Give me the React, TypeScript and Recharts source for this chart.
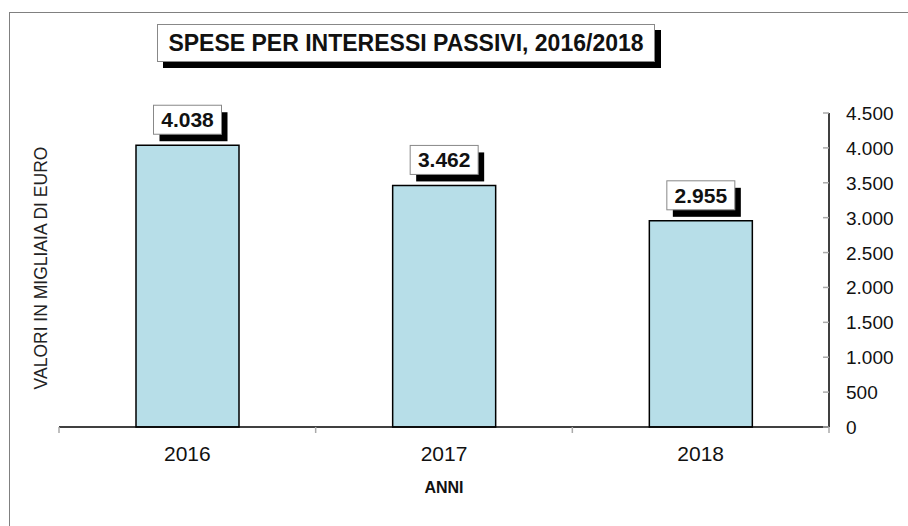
import React from "react";
import { BarChart, Bar, XAxis, YAxis, LabelList, Label } from "recharts";

const years = ["2016", "2017", "2018"];
const spese = [4038, 3462, 2955];
const yTicks = [0, 500, 1000, 1500, 2000, 2500, 3000, 3500, 4000, 4500];

const data = years.map((anno, i) => ({ anno, spese: spese[i] }));

const FONT = '"Liberation Sans", Arial, Helvetica, sans-serif';
const W = 908;
const H = 526;
const LEFT = 59;
const PLOT_W = 770;
const BAND = PLOT_W / years.length;

// 4500 -> "4.500" (Italian grouping; it-IT locale skips 4-digit numbers)
const fmt = (n: number) => String(n).replace(/\B(?=(\d{3})+(?!\d))/g, ".");

const YearTick = (props: any) => {
  const { x, y, payload, index } = props;
  const left = x - BAND / 2;
  return (
    <g>
      <line x1={left} y1={y} x2={left} y2={y + 6} stroke="#aaa" strokeWidth={1.5} />
      {index === years.length - 1 && (
        <line x1={x + BAND / 2} y1={y} x2={x + BAND / 2} y2={y + 6} stroke="#aaa" strokeWidth={1.5} />
      )}
      <text x={x} y={y + 34} textAnchor="middle" fontSize={21} fill="#111" fontFamily={FONT}>
        {payload.value}
      </text>
    </g>
  );
};

const ValueTick = (props: any) => {
  const { x, y, payload } = props;
  return (
    <g>
      <line x1={x - 6} y1={y} x2={x} y2={y} stroke="#aaa" strokeWidth={1.5} />
      <text x={x + 17} y={y + 7} textAnchor="start" fontSize={19} fill="#111" fontFamily={FONT}>
        {fmt(payload.value)}
      </text>
    </g>
  );
};

const BoxLabel = (props: any) => {
  const { x, y, width, value } = props;
  const cx = x + width / 2;
  const bw = 68;
  const bh = 29;
  const top = y - 40;
  return (
    <g>
      <rect x={cx - bw / 2 + 6} y={top + 7} width={bw} height={bh} fill="#000" />
      <rect x={cx - bw / 2} y={top} width={bw} height={bh} fill="#fff" stroke="#888" strokeWidth={1} />
      <text x={cx} y={top + 22} textAnchor="middle" fontSize={21} fontWeight="bold" fill="#111" fontFamily={FONT}>
        {fmt(value)}
      </text>
    </g>
  );
};

export default function App() {
  return (
    <div style={{ position: "absolute", left: 0, top: 0, width: W, height: H, background: "#fff", overflow: "hidden", fontFamily: FONT }}>
      <div style={{ position: "absolute", left: 9, top: 12, width: 2000, height: 2000, borderLeft: "1.5px solid #808080", borderTop: "1.5px solid #808080" }} />
      <div
        style={{
          position: "absolute",
          left: 157,
          top: 24,
          width: 498,
          height: 38,
          boxSizing: "border-box",
          border: "1px solid #888",
          background: "#fff",
          boxShadow: "6px 6px 0 #000",
          fontSize: 23,
          fontWeight: "bold",
          lineHeight: "36px",
          textAlign: "center",
          color: "#111",
          whiteSpace: "nowrap",
        }}
      >
        SPESE PER INTERESSI PASSIVI, 2016/2018
      </div>
      <div
        style={{
          position: "absolute",
          left: 41,
          top: 268,
          transform: "translate(-50%, -50%) rotate(-90deg)",
          whiteSpace: "nowrap",
          fontSize: 17.5,
          color: "#222",
        }}
      >
        VALORI IN MIGLIAIA DI EURO
      </div>
      <div style={{ position: "absolute", left: 0, top: 0 }}>
        <BarChart
          width={W}
          height={H}
          data={data}
          margin={{ top: 113, right: W - LEFT - PLOT_W - 70, bottom: 33, left: LEFT }}
          barCategoryGap="30%"
        >
          <XAxis
            dataKey="anno"
            tickLine={false}
            tickSize={0}
            tickMargin={0}
            axisLine={{ stroke: "#000", strokeWidth: 1.5 }}
            tick={<YearTick />}
            height={66}
            interval={0}
          >
            <Label value="ANNI" position="insideBottom" offset={0} fontSize={16} fontWeight="bold" fill="#111" fontFamily={FONT} />
          </XAxis>
          <YAxis
            orientation="right"
            width={70}
            domain={[0, 4500]}
            ticks={yTicks}
            tickLine={false}
            tickSize={0}
            tickMargin={0}
            axisLine={{ stroke: "#000", strokeWidth: 1.5 }}
            tick={<ValueTick />}
            interval={0}
          />
          <Bar dataKey="spese" fill="#B7DEE8" stroke="#000" strokeWidth={1.5} isAnimationActive={false}>
            <LabelList dataKey="spese" content={<BoxLabel />} />
          </Bar>
        </BarChart>
      </div>
    </div>
  );
}
